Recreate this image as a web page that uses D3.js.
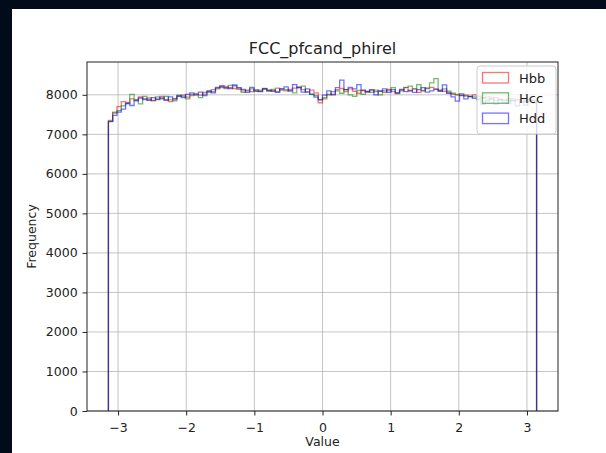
<!DOCTYPE html>
<html lang="en">
<head>
<meta charset="utf-8">
<title>FCC_pfcand_phirel</title>
<script src="https://cdn.jsdelivr.net/npm/d3@7"></script>
<style>
  body { margin: 0; background: #020b1a; }
  svg { display: block; }
  text { font-family: "DejaVu Sans", sans-serif; fill: #222; }
</style>
</head>
<body>
<script>

var title = "FCC_pfcand_phirel";
var seriesNames = ["Hbb", "Hcc", "Hdd"];
var seriesColors = ["#ff0000", "#008000", "#0000ff"];
var xTicks = [-3, -2, -1, 0, 1, 2, 3];
var yTicks = [0, 1000, 2000, 3000, 4000, 5000, 6000, 7000, 8000];
var nBins = 100;

var hbb = [
  7350, 7540, 7700, 7830, 7810, 7900, 7870, 7950, 7880, 7920,
  7850, 7900, 7960, 7880, 7830, 7900, 7960, 7990, 7940, 7980,
  8020, 7990, 8060, 8100, 8080, 8150, 8230, 8210, 8180, 8160,
  8140, 8100, 8120, 8080, 8130, 8090, 8150, 8110, 8090, 8170,
  8120, 8100, 8140, 8170, 8200, 8130, 8080, 8120, 8050, 7800,
  7900, 8000, 8020, 8130, 8160, 8080, 8150, 8090, 8040, 8110,
  8060, 8130, 8080, 8100, 8060, 8140, 8080, 8030, 8120, 8180,
  8100, 8150, 8060, 8100, 8170, 8190, 8150, 8120, 8090, 8050,
  8020, 8010, 7980, 7990, 7950, 8000, 7960, 7920, 7950, 7900,
  7930, 7880, 7860, 7900, 7850, 7870, 7880, 7830, 7840, 7850
];
var hcc = [
  7330, 7560, 7600, 7720, 7780, 8010, 7870, 7770, 7960, 7880,
  7860, 7950, 7900, 7960, 7870, 7850, 7990, 7960, 7900, 8010,
  7990, 7930, 8020, 8060, 8130, 8170, 8180, 8160, 8240, 8230,
  8170, 8060, 8100, 8150, 8090, 8120, 8160, 8090, 8140, 8080,
  8150, 8130, 8100, 8050, 8180, 8220, 8060, 8010, 7980, 7880,
  7930, 8010, 8080, 8100, 8040, 8130, 8000, 7960, 8110, 8010,
  8090, 8060, 8120, 8000, 8100, 8110, 8180, 8050, 8100, 8190,
  8220, 8150, 8260, 8110, 8160, 8300, 8410, 8110, 8150, 8090,
  8040, 7990, 8030, 7970, 7960, 7950, 7910, 7930, 7900, 7940,
  7860, 7900, 7880, 7850, 7900, 7870, 7820, 7860, 7830, 7870
];
var hdd = [
  7320, 7480, 7560, 7640, 7780, 7730, 7850, 7920, 7900, 7860,
  7930, 7880, 7920, 7860, 7950, 7900, 7970, 7930, 8010, 8050,
  8020, 8070, 7980, 8090, 8050, 8190, 8210, 8180, 8160, 8250,
  8180, 8140, 8060, 8190, 8100, 8080, 8150, 8120, 8100, 8060,
  8150, 8200, 8100, 8260, 8180, 8070, 8150, 8020, 7940, 7870,
  7990, 8100, 8000, 8180, 8370, 8130, 8190, 8150, 8260, 8120,
  8080, 8120, 8000, 8090, 8150, 8060, 8130, 8050, 8140, 8080,
  8110, 8060, 8130, 8180, 8070, 8100, 8140, 8090, 8250, 8040,
  7950, 7840, 7990, 7900, 7960, 7910, 7870, 7760, 7850, 7900,
  7760, 7880, 7810, 7780, 7860, 7720, 7820, 7740, 7880, 7790
];
var series = [hbb, hcc, hdd];

var w = 606, h = 453;
var margin = {top: 62, right: 48, bottom: 42, left: 87};

var svg = d3.select("body").append("svg")
  .attr("width", w)
  .attr("height", h);

// white figure area
svg.append("rect")
  .attr("x", 12).attr("y", 9)
  .attr("width", w - 12).attr("height", h - 9)
  .attr("fill", "#fff");

var lo = -Math.PI, hi = Math.PI;
var pad = (hi - lo) * 0.05;
var x = d3.scaleLinear()
  .domain([lo - pad, hi + pad])
  .range([margin.left, w - margin.right]);

var yMax = d3.max(series, s => d3.max(s)) * 1.05;
var y = d3.scaleLinear()
  .domain([0, yMax])
  .range([h - margin.bottom, margin.top]);

var edges = d3.range(nBins + 1).map(i => lo + i * (hi - lo) / nBins);

// grid
var grid = svg.append("g");
grid.selectAll(".gx").data(xTicks).enter().append("line")
  .attr("x1", d => x(d)).attr("x2", d => x(d))
  .attr("y1", y(0)).attr("y2", margin.top)
  .attr("stroke", "#b0b0b0").attr("stroke-opacity", 0.75);
grid.selectAll(".gy").data(yTicks).enter().append("line")
  .attr("x1", margin.left).attr("x2", w - margin.right)
  .attr("y1", d => y(d)).attr("y2", d => y(d))
  .attr("stroke", "#b0b0b0").attr("stroke-opacity", 0.75);

// step histograms
function stepPoints(vals) {
  var pts = [[edges[0], 0]];
  vals.forEach(function(v, i) {
    pts.push([edges[i], v]);
    pts.push([edges[i + 1], v]);
  });
  pts.push([edges[nBins], 0]);
  return pts;
}
var line = d3.line().x(d => x(d[0])).y(d => y(d[1]));

series.forEach(function(s, i) {
  svg.append("path")
    .attr("d", line(stepPoints(s)))
    .attr("fill", "none")
    .attr("stroke", seriesColors[i])
    .attr("stroke-opacity", 0.55)
    .attr("stroke-width", 1.3);
});

// axes
var xAxis = svg.append("g")
  .attr("transform", "translate(0," + y(0) + ")")
  .call(d3.axisBottom(x).tickValues(xTicks).tickSize(4.5).tickSizeOuter(0)
    .tickFormat(d => d < 0 ? "\u2212" + Math.abs(d) : d));
var yAxis = svg.append("g")
  .attr("transform", "translate(" + margin.left + ",0)")
  .call(d3.axisLeft(y).tickValues(yTicks).tickSize(4.5).tickSizeOuter(0)
    .tickFormat(d3.format("d")));
[xAxis, yAxis].forEach(function(a) {
  a.select(".domain").remove();
  a.selectAll("text").style("font-size", "12.5px").attr("fill", "#222");
  a.selectAll("line").attr("stroke", "#222");
});
xAxis.selectAll("text").attr("dy", "1.05em");
yAxis.selectAll("text").attr("dx", "-0.15em");

svg.append("rect")
  .attr("x", margin.left).attr("y", margin.top)
  .attr("width", w - margin.right - margin.left)
  .attr("height", h - margin.bottom - margin.top)
  .attr("fill", "none").attr("stroke", "#222").attr("stroke-width", 1);

// labels
svg.append("text")
  .attr("x", (margin.left + w - margin.right) / 2)
  .attr("y", 54)
  .attr("text-anchor", "middle")
  .style("font-size", "16px")
  .text(title);
svg.append("text")
  .attr("x", (margin.left + w - margin.right) / 2)
  .attr("y", 446)
  .attr("text-anchor", "middle")
  .style("font-size", "12.5px")
  .text("Value");
svg.append("text")
  .attr("transform", "translate(36," + ((margin.top + h - margin.bottom) / 2) + ") rotate(-90)")
  .attr("text-anchor", "middle")
  .style("font-size", "12.5px")
  .text("Frequency");

// legend
var lg = svg.append("g").attr("transform", "translate(477,66)");
lg.append("rect")
  .attr("width", 79).attr("height", 68)
  .attr("rx", 3)
  .attr("fill", "#fff").attr("fill-opacity", 0.8)
  .attr("stroke", "#ccc");
seriesNames.forEach(function(n, i) {
  var gy = 6.5 + i * 20.3;
  lg.append("rect")
    .attr("x", 5.5).attr("y", gy)
    .attr("width", 26).attr("height", 10.5)
    .attr("fill", "none")
    .attr("stroke", seriesColors[i]).attr("stroke-opacity", 0.55)
    .attr("stroke-width", 1.3);
  lg.append("text")
    .attr("x", 42).attr("y", gy + 10)
    .style("font-size", "13px")
    .text(n);
});

</script>
</body>
</html>
